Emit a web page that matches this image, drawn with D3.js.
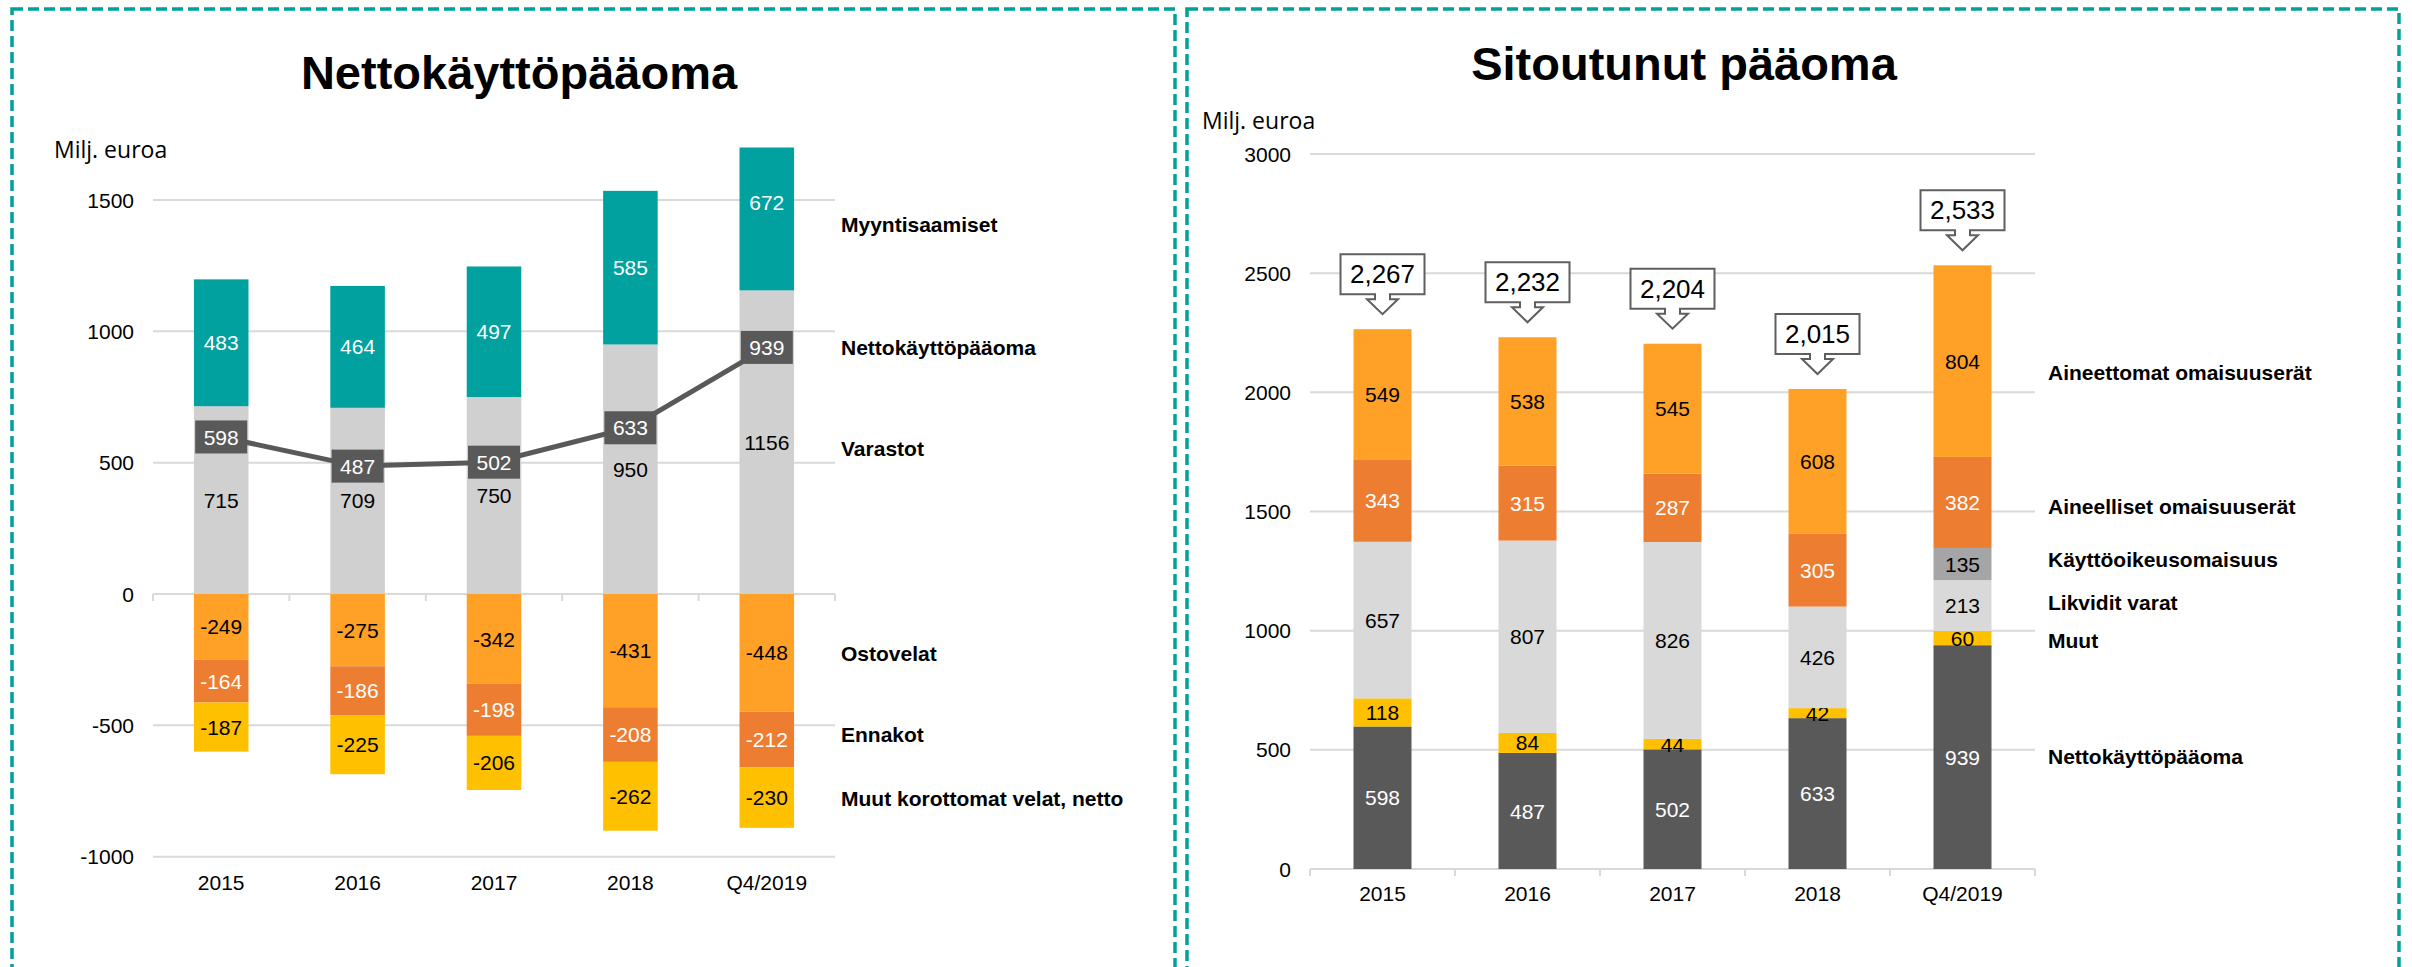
<!DOCTYPE html>
<html>
<head>
<meta charset="utf-8">
<script src="https://cdn.jsdelivr.net/npm/d3@7"></script>
<style>
body { margin: 0; background: #fff; }
text { font-family: "Liberation Sans", Arial, sans-serif; }
</style>
</head>
<body>
<div id="chart"></div>
<script>
// categories
var years = ["2015", "2016", "2017", "2018", "Q4/2019"];

// left chart: Nettokäyttöpääoma
var varastot = [715, 709, 750, 950, 1156];
var myyntisaamiset = [483, 464, 497, 585, 672];
var ostovelat = [-249, -275, -342, -431, -448];
var ennakot = [-164, -186, -198, -208, -212];
var muutVelat = [-187, -225, -206, -262, -230];
var nettoKp = [598, 487, 502, 633, 939];
var leftTicks = [-1000, -500, 0, 500, 1000, 1500];

// right chart: Sitoutunut pääoma
var rNetto = [598, 487, 502, 633, 939];
var rMuut = [118, 84, 44, 42, 60];
var likvidit = [657, 807, 826, 426, 213];
var kayttooikeus = [0, 0, 0, 0, 135];
var aineelliset = [343, 315, 287, 305, 382];
var aineettomat = [549, 538, 545, 608, 804];
var totals = [2267, 2232, 2204, 2015, 2533];
var rightTicks = [0, 500, 1000, 1500, 2000, 2500, 3000];

// where the series names sit (in data units)
var leftNames = ["Myyntisaamiset", "Nettokäyttöpääoma", "Varastot", "Ostovelat", "Ennakot", "Muut korottomat velat, netto"];
var leftNameAt = [1408, 939, 556, -225, -533, -780];
var rightNames = ["Aineettomat omaisuuserät", "Aineelliset omaisuuserät", "Käyttöoikeusomaisuus", "Likvidit varat", "Muut", "Nettokäyttöpääoma"];
var rightNameAt = [2083, 1520, 1297, 1120, 961, 471];

var svg = d3.select("#chart").append("svg")
    .attr("width", 2412)
    .attr("height", 967);

// dashed panel frames
var teal = "#00A19A";
svg.append("rect").attr("x", 12).attr("y", 9).attr("width", 1163).attr("height", 1000)
    .attr("fill", "none").attr("stroke", teal).attr("stroke-width", 3.5).attr("stroke-dasharray", "11,5");
svg.append("rect").attr("x", 1187).attr("y", 9).attr("width", 1212).attr("height", 1000)
    .attr("fill", "none").attr("stroke", teal).attr("stroke-width", 3.5).attr("stroke-dasharray", "11,5");

// helper: stacked bars with labels
function stack(g, x, y, series) {
    var base = years.map(function () { return 0; });
    series.forEach(function (s) {
        s.values.forEach(function (v, i) {
            if (v === 0) return;
            var y0 = base[i], y1 = base[i] + v;
            base[i] = y1;
            g.append("rect")
                .attr("x", x(years[i]))
                .attr("y", y(Math.max(y0, y1)))
                .attr("width", x.bandwidth())
                .attr("height", Math.abs(y(y0) - y(y1)))
                .attr("fill", s.color);
            g.append("text")
                .attr("x", x(years[i]) + x.bandwidth() / 2)
                .attr("y", y((y0 + y1) / 2))
                .attr("dy", "0.36em")
                .attr("text-anchor", "middle")
                .style("font-size", "21px")
                .style("fill", s.text)
                .text(v);
        });
    });
}

function grid(g, x, y, ticks) {
    var r = x.range();
    g.selectAll(".grid").data(ticks).enter().append("line")
        .attr("x1", r[0]).attr("x2", r[1])
        .attr("y1", function (d) { return y(d); })
        .attr("y2", function (d) { return y(d); })
        .attr("stroke", "#D9D9D9").attr("stroke-width", 2);
    g.selectAll(".tick").data(ticks).enter().append("text")
        .attr("x", r[0] - 19)
        .attr("y", function (d) { return y(d); })
        .attr("dy", "0.36em")
        .attr("text-anchor", "end")
        .style("font-size", "21px")
        .text(function (d) { return d; });
    // ticks at category edges on zero line
    var edges = years.map(function (c) { return x(c) - x.step() * x.paddingInner() / 2; });
    edges.push(r[1]);
    g.selectAll(".edge").data(edges).enter().append("line")
        .attr("x1", function (d) { return d; }).attr("x2", function (d) { return d; })
        .attr("y1", y(0)).attr("y2", y(0) + 7)
        .attr("stroke", "#D9D9D9").attr("stroke-width", 2);
}

function names(g, x0, y, list, at) {
    g.selectAll(".name").data(list).enter().append("text")
        .attr("x", x0)
        .attr("y", function (d, i) { return y(at[i]); })
        .attr("dy", "0.36em")
        .style("font-size", "21px")
        .style("font-weight", "bold")
        .text(function (d) { return d; });
}

// ---------------- left chart ----------------
var gl = svg.append("g");
var xl = d3.scaleBand().domain(years).range([153, 835]).paddingInner(0.6).paddingOuter(0.3);
// axis max 1700: the tallest bar is cut at the plot top, as in Excel
var yl = d3.scaleLinear().domain([-1000, 1700]).range([856.7, 147.5]).clamp(true);

gl.append("text").attr("x", 519).attr("y", 89).attr("text-anchor", "middle")
    .style("font-size", "47px").style("font-weight", "bold").text("Nettokäyttöpääoma");
gl.append("text").attr("x", 54).attr("y", 158)
    .style("font-family", "'Open Sans', sans-serif").style("font-size", "23px").text("Milj. euroa");

grid(gl, xl, yl, leftTicks);

stack(gl, xl, yl, [
    { values: varastot, color: "#D0D0D0", text: "#000" },
    { values: myyntisaamiset, color: "#00A19F", text: "#fff" }
]);
stack(gl, xl, yl, [
    { values: ostovelat, color: "#FFA126", text: "#000" },
    { values: ennakot, color: "#ED7D31", text: "#fff" },
    { values: muutVelat, color: "#FFC000", text: "#000" }
]);

var line = d3.line()
    .x(function (d, i) { return xl(years[i]) + xl.bandwidth() / 2; })
    .y(function (d) { return yl(d); });
gl.append("path").datum(nettoKp).attr("d", line)
    .attr("fill", "none").attr("stroke", "#595959").attr("stroke-width", 5);

var boxes = gl.selectAll(".nk").data(nettoKp).enter().append("g")
    .attr("transform", function (d, i) {
        return "translate(" + (xl(years[i]) + xl.bandwidth() / 2) + "," + yl(d) + ")";
    });
boxes.append("rect").attr("x", -26).attr("y", -16.5).attr("width", 52).attr("height", 33).attr("fill", "#595959");
boxes.append("text").attr("text-anchor", "middle").attr("dy", "0.36em")
    .style("font-size", "21px").style("fill", "#fff").text(function (d) { return d; });

gl.selectAll(".xl").data(years).enter().append("text")
    .attr("x", function (d) { return xl(d) + xl.bandwidth() / 2; })
    .attr("y", 890)
    .attr("text-anchor", "middle")
    .style("font-size", "21px")
    .text(function (d) { return d; });

names(gl, 841, yl, leftNames, leftNameAt);

// ---------------- right chart ----------------
var gr = svg.append("g");
var xr = d3.scaleBand().domain(years).range([1310, 2035]).paddingInner(0.6).paddingOuter(0.3);
var yr = d3.scaleLinear().domain([0, 3000]).range([869, 154]);

gr.append("text").attr("x", 1684).attr("y", 80).attr("text-anchor", "middle")
    .style("font-size", "47px").style("font-weight", "bold").text("Sitoutunut pääoma");
gr.append("text").attr("x", 1202).attr("y", 129)
    .style("font-family", "'Open Sans', sans-serif").style("font-size", "23px").text("Milj. euroa");

grid(gr, xr, yr, rightTicks);

stack(gr, xr, yr, [
    { values: rNetto, color: "#595959", text: "#fff" },
    { values: rMuut, color: "#FFC000", text: "#000" },
    { values: likvidit, color: "#D9D9D9", text: "#000" },
    { values: kayttooikeus, color: "#A5A5A5", text: "#000" },
    { values: aineelliset, color: "#ED7D31", text: "#fff" },
    { values: aineettomat, color: "#FFA126", text: "#000" }
]);

// total callouts
var fmt = d3.format(",");
var call = gr.selectAll(".call").data(totals).enter().append("g")
    .attr("transform", function (d, i) {
        var top = rNetto[i] + rMuut[i] + likvidit[i] + kayttooikeus[i] + aineelliset[i] + aineettomat[i];
        return "translate(" + (xr(years[i]) + xr.bandwidth() / 2) + "," + yr(top) + ")";
    });
call.append("path")
    .attr("d", "M-42,-75H42V-35H7.5V-30H15.5L0,-15L-15.5,-30H-7.5V-35H-42Z")
    .attr("fill", "#fff").attr("stroke", "#5f5f5f").attr("stroke-width", 2);
call.append("text").attr("y", -46).attr("text-anchor", "middle")
    .style("font-size", "26px").text(function (d) { return fmt(d); });

gr.selectAll(".xr").data(years).enter().append("text")
    .attr("x", function (d) { return xr(d) + xr.bandwidth() / 2; })
    .attr("y", 901)
    .attr("text-anchor", "middle")
    .style("font-size", "21px")
    .text(function (d) { return d; });

names(gr, 2048, yr, rightNames, rightNameAt);
</script>
</body>
</html>
